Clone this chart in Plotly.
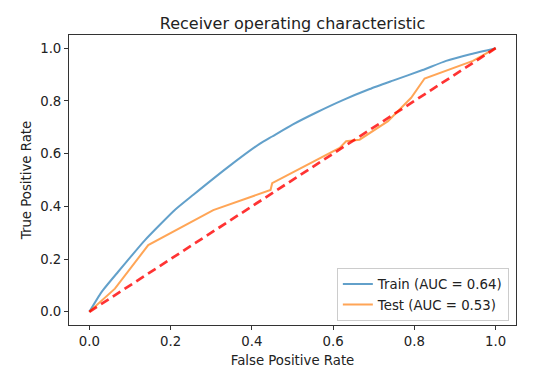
import plotly.graph_objects as go

# Data
train_fpr = [0.0, 0.03, 0.071, 0.137, 0.211, 0.256, 0.338, 0.42, 0.45, 0.50, 0.56, 0.624, 0.69, 0.747, 0.82, 0.878, 0.94, 1.0]
train_tpr = [0.0, 0.075, 0.152, 0.272, 0.387, 0.444, 0.545, 0.638, 0.665, 0.71, 0.757, 0.803, 0.845, 0.877, 0.917, 0.952, 0.978, 1.0]

test_fpr = [0.0, 0.063, 0.145, 0.305, 0.446, 0.45, 0.616, 0.632, 0.665, 0.735, 0.792, 0.825, 0.944, 1.0]
test_tpr = [0.0, 0.088, 0.253, 0.386, 0.462, 0.488, 0.622, 0.647, 0.653, 0.723, 0.812, 0.885, 0.952, 1.0]

diag = [0.0, 1.0]

train_label = "Train (AUC = 0.64)"
test_label = "Test (AUC = 0.53)"

FONT = "DejaVu Sans"
SMALL = 13.3

fig = go.Figure()
fig.add_trace(go.Scatter(x=train_fpr, y=train_tpr, mode="lines", name=train_label,
                         line=dict(color="rgba(31,119,180,0.7)", width=2, shape="spline", smoothing=0.5)))
fig.add_trace(go.Scatter(x=test_fpr, y=test_tpr, mode="lines", name=test_label,
                         line=dict(color="rgba(255,127,14,0.7)", width=2)))
fig.add_trace(go.Scatter(x=diag, y=diag, mode="lines", showlegend=False,
                         line=dict(color="rgba(255,0,0,0.8)", width=2.7, dash="9px,5px")))

axis_common = dict(
    showgrid=False, zeroline=False, showline=True, mirror=True,
    linecolor="#333", linewidth=1, ticks="outside", ticklen=4, tickcolor="#333",
    tickfont=dict(family=FONT, size=SMALL, color="#222"),
    tickformat=".1f", dtick=0.2, tick0=0, range=[-0.05, 1.05],
)

fig.update_layout(
    width=537, height=374,
    margin=dict(l=61, r=29, t=27, b=57),
    paper_bgcolor="white", plot_bgcolor="white",
    font=dict(family=FONT, color="#222"),
    title=dict(text="Receiver operating characteristic", x=0.5, xref="paper", xanchor="center",
               y=1 - 15 / 374, yanchor="middle", yref="container",
               font=dict(size=16, family=FONT, color="#222")),
    xaxis=dict(title=dict(text="False Positive Rate", standoff=7,
                          font=dict(size=SMALL, family=FONT, color="#222")),
               **axis_common),
    yaxis=dict(title=dict(text="True Positive Rate", standoff=5,
                          font=dict(size=SMALL, family=FONT, color="#222")),
               **axis_common),
    legend=dict(x=0.984, y=0.014, xanchor="right", yanchor="bottom",
                bgcolor="white", bordercolor="#ccc", borderwidth=1,
                font=dict(size=SMALL, family=FONT, color="#222"),
                itemwidth=30, tracegroupgap=0),
    showlegend=True,
)

fig.write_html("out.html")
